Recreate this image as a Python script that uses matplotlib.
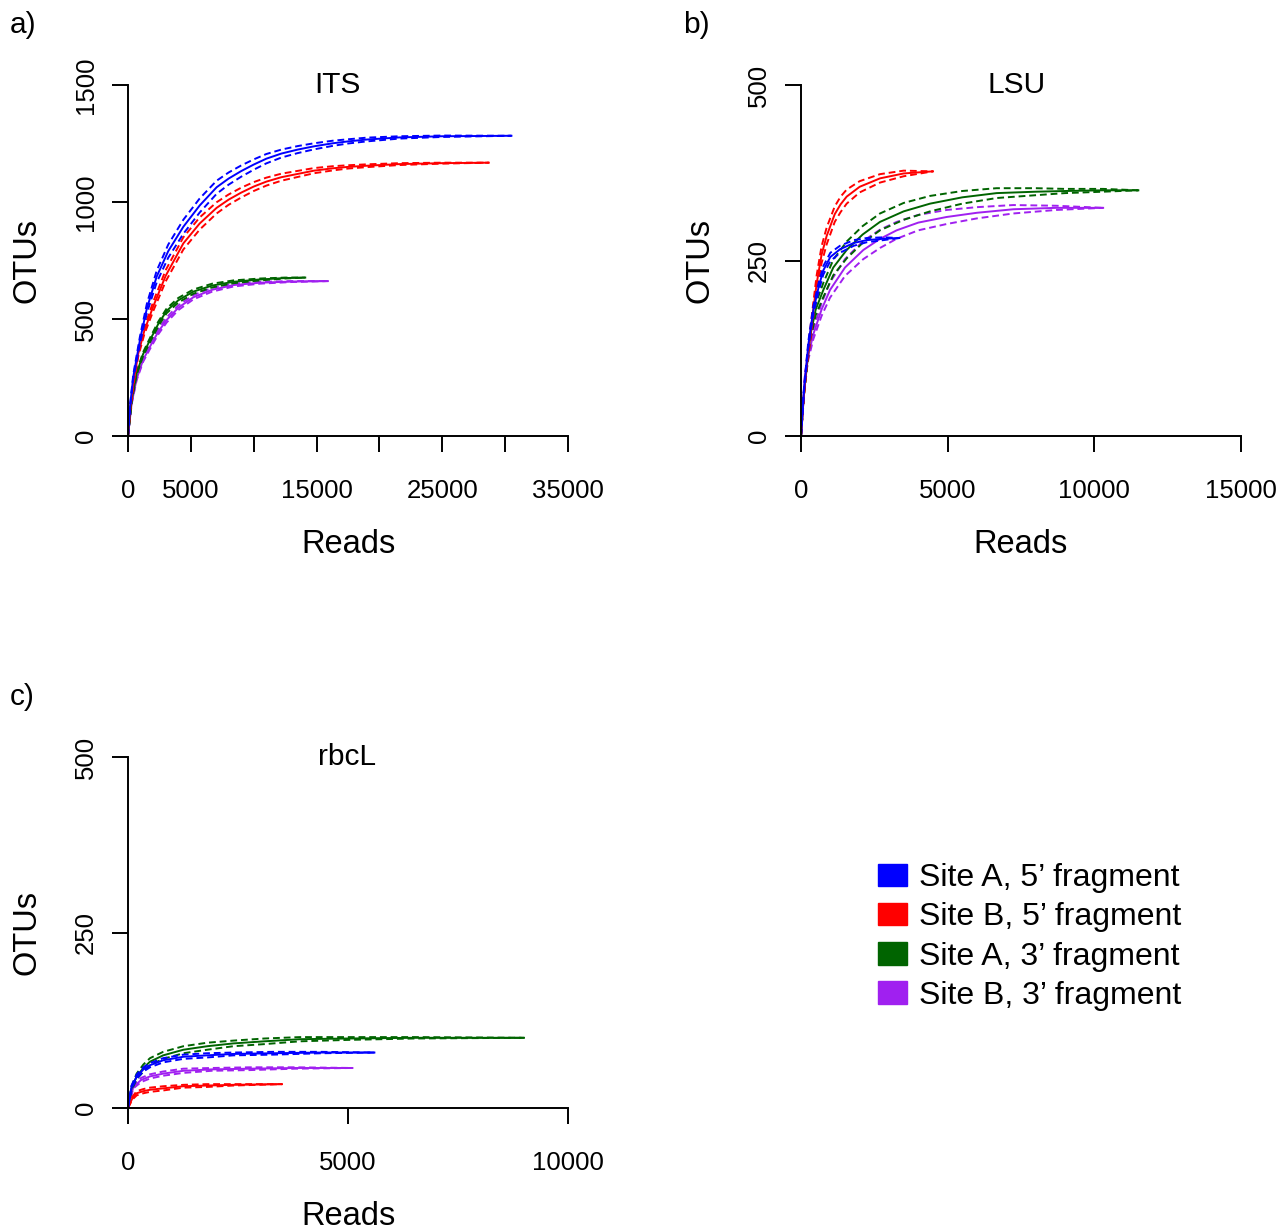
import matplotlib
matplotlib.use("Agg")
import matplotlib.pyplot as plt
from matplotlib.patches import Patch

plt.rcParams['font.family'] = ['Liberation Sans', 'DejaVu Sans']

W, H = 1283, 1230

# colours and legend text
colors = ["#0000FF", "#FF0000", "#006400", "#A020F0"]
labels = ["Site A, 5\u2019 fragment", "Site B, 5\u2019 fragment",
          "Site A, 3\u2019 fragment", "Site B, 3\u2019 fragment"]

# --- ITS (reads vs OTUs) ---
its_a5_x = [0, 160, 420, 950, 1500, 2280, 3200, 4400, 5700, 7050, 8000, 9000, 10000, 11000, 12200, 13500,
            14800, 16300, 17500, 19000, 21600, 25000, 30500]
its_a5_y = [0, 125, 253, 410, 545, 681, 790, 894, 985, 1063, 1100, 1132, 1160, 1185, 1207, 1224,
            1238, 1251, 1259, 1267, 1276, 1281, 1283]
its_a5_ci = [0, 5, 10, 15, 20, 25, 28, 30, 30, 28, 26, 24, 22, 20, 17, 15,
             13, 11, 9, 8, 5, 3, 0]

its_b5_x = [0, 200, 500, 820, 1300, 2000, 3000, 4400, 5700, 7050, 8000, 9000, 10000, 11000, 12200, 13500,
            14800, 16300, 17500, 19000, 21600, 25000, 28700]
its_b5_y = [0, 130, 250, 353, 450, 553, 685, 823, 908, 975, 1010, 1040, 1066, 1087, 1106, 1120,
            1134, 1144, 1150, 1155, 1162, 1166, 1168]
its_b5_ci = [0, 5, 8, 12, 15, 20, 24, 26, 26, 24, 22, 21, 19, 17, 15, 13,
             11, 9, 7, 6, 4, 2, 0]

its_a3_x = [0, 290, 690, 1200, 1750, 2400, 3075, 4000, 5200, 6700, 8400, 10500, 12500, 14100]
its_a3_y = [0, 154, 268, 350, 410, 478, 535, 580, 617, 643, 659, 669, 675, 677]
its_a3_ci = [0, 4, 6, 8, 9, 10, 10, 10, 9, 8, 6, 4, 2, 0]

its_b3_x = [0, 290, 690, 1200, 1750, 2400, 3075, 4000, 5200, 6700, 8400, 10500, 13000, 15900]
its_b3_y = [0, 140, 245, 325, 382, 445, 496, 548, 593, 625, 645, 655, 660, 662]
its_b3_ci = [0, 4, 6, 8, 10, 11, 11, 10, 9, 8, 6, 4, 2, 0]

# --- LSU ---
lsu_a5_x = [0, 100, 250, 420, 600, 761, 1000, 1330, 1800, 2240, 2800, 3350]
lsu_a5_y = [0, 65, 130, 179, 212, 236, 255, 266, 275, 279, 281, 282]
lsu_a5_ci = [0, 3, 5, 6, 6, 6, 6, 5, 4, 3, 2, 0]

lsu_b5_x = [0, 100, 200, 307, 420, 534, 700, 875, 1150, 1350, 1557, 2000, 2693, 3500, 4500]
lsu_b5_y = [0, 60, 105, 141, 180, 217, 258, 285, 316, 330, 341, 355, 367, 374, 377]
lsu_b5_ci = [0, 4, 6, 8, 10, 12, 12, 12, 11, 11, 10, 8, 6, 4, 0]

lsu_a3_x = [0, 100, 307, 500, 761, 1100, 1557, 2100, 2693, 3500, 4400, 5500, 6670, 8000, 9000, 10300, 11500]
lsu_a3_y = [0, 60, 141, 180, 208, 240, 265, 287, 305, 320, 331, 340, 346, 348, 349, 350, 350]
lsu_a3_ci = [0, 3, 6, 8, 10, 11, 12, 12, 12, 12, 11, 9, 7, 5, 3, 2, 0]

lsu_b3_x = [0, 136, 250, 420, 700, 989, 1500, 2125, 2700, 3262, 4000, 4967, 6000, 7241, 8700, 10300]
lsu_b3_y = [0, 85, 115, 145, 180, 208, 240, 265, 281, 293, 304, 312, 318, 323, 325, 325]
lsu_b3_ci = [0, 4, 6, 7, 9, 11, 12, 13, 13, 12, 11, 10, 8, 6, 3, 0]

# --- rbcL ---
rbc_a5_x = [0, 80, 200, 350, 500, 800, 1258, 1800, 2394, 3300, 4400, 5600]
rbc_a5_y = [0, 30, 45, 55, 61, 68, 73, 75, 77, 78, 79, 79]
rbc_a5_ci = [0, 2, 3, 3, 3, 3, 3, 3, 2, 2, 1, 0]

rbc_b5_x = [0, 100, 197, 350, 500, 800, 1258, 1800, 2394, 3500]
rbc_b5_y = [0, 14, 21, 24, 26, 28, 31, 32, 33, 34]
rbc_b5_ci = [0, 2, 3, 3, 3, 3, 2, 2, 1, 0]

rbc_a3_x = [0, 80, 197, 350, 500, 800, 1258, 1800, 2394, 3100, 3909, 5000, 6500, 9000]
rbc_a3_y = [0, 28, 45, 57, 66, 75, 83, 88, 92, 95, 98, 99, 100, 100]
rbc_a3_ci = [0, 3, 4, 5, 5, 5, 5, 5, 4, 4, 3, 2, 1, 0]

rbc_b3_x = [0, 121, 300, 500, 800, 1258, 1900, 2773, 3800, 5100]
rbc_b3_y = [0, 30, 40, 45, 49, 53, 55, 56, 57, 57]
rbc_b3_ci = [0, 2, 3, 3, 3, 3, 2, 2, 1, 0]

panels = [
    dict(name="ITS", tag="a)", box=(128, 85), xmax=35000, ymax=1500,
         xticks=[0, 5000, 10000, 15000, 20000, 25000, 30000, 35000],
         xlabels=["0", "5000", "", "15000", "", "25000", "", "35000"],
         yticks=[0, 500, 1000, 1500], title_x=0.476,
         curves=[(its_a5_x, its_a5_y, its_a5_ci), (its_b5_x, its_b5_y, its_b5_ci),
                 (its_a3_x, its_a3_y, its_a3_ci), (its_b3_x, its_b3_y, its_b3_ci)]),
    dict(name="LSU", tag="b)", box=(801, 85), xmax=15000, ymax=500,
         xticks=[0, 5000, 10000, 15000],
         xlabels=["0", "5000", "10000", "15000"],
         yticks=[0, 250, 500], title_x=0.489,
         curves=[(lsu_a5_x, lsu_a5_y, lsu_a5_ci), (lsu_b5_x, lsu_b5_y, lsu_b5_ci),
                 (lsu_a3_x, lsu_a3_y, lsu_a3_ci), (lsu_b3_x, lsu_b3_y, lsu_b3_ci)]),
    dict(name="rbcL", tag="c)", box=(128, 757), xmax=10000, ymax=500,
         xticks=[0, 5000, 10000],
         xlabels=["0", "5000", "10000"],
         yticks=[0, 250, 500], title_x=0.497,
         curves=[(rbc_a5_x, rbc_a5_y, rbc_a5_ci), (rbc_b5_x, rbc_b5_y, rbc_b5_ci),
                 (rbc_a3_x, rbc_a3_y, rbc_a3_ci), (rbc_b3_x, rbc_b3_y, rbc_b3_ci)]),
]

fig = plt.figure(figsize=(W / 100, H / 100), dpi=100)

aw, ah = 440, 351
for p in panels:
    left, top = p["box"]
    ax = fig.add_axes([left / W, 1 - (top + ah) / H, aw / W, ah / H])
    # draw in reverse so blue/red sit on top like the original
    for (x, y, ci), c in list(zip(p["curves"], colors))[::-1]:
        up = [a + b for a, b in zip(y, ci)]
        lo = [a - b for a, b in zip(y, ci)]
        ax.plot(x, up, color=c, lw=1.4, dashes=(3.5, 2))
        ax.plot(x, lo, color=c, lw=1.4, dashes=(3.5, 2))
        ax.plot(x, y, color=c, lw=1.4)
    ax.set_xlim(0, p["xmax"])
    ax.set_ylim(0, p["ymax"])
    ax.spines[["top", "right"]].set_visible(False)
    for s in ["left", "bottom"]:
        ax.spines[s].set_linewidth(1.4)
    ax.set_xticks(p["xticks"])
    ax.set_xticklabels(p["xlabels"])
    ax.set_yticks(p["yticks"])
    ax.set_yticklabels([str(v) for v in p["yticks"]], rotation=90, va="center")
    ax.tick_params(axis="both", direction="out", length=11.5, width=1.4, labelsize=18.5)
    ax.tick_params(axis="x", pad=19.5)
    ax.tick_params(axis="y", pad=10)
    ax.set_xlabel("Reads", fontsize=23.5, labelpad=19)
    ax.set_ylabel("OTUs", fontsize=23.5, labelpad=23)
    ax.text(p["title_x"], 0.977, p["name"], transform=ax.transAxes,
            ha="center", va="baseline", fontsize=21.5)
    fig.text((left - 118) / W, 1 - (top - 60) / H, p["tag"],
             ha="left", va="center", fontsize=21.5)

handles = [Patch(facecolor=c, edgecolor=c) for c in colors]
fig.legend(handles, labels, loc="upper left", bbox_to_anchor=(878 / W, 1 - 863 / H),
           frameon=False, fontsize=23, handlelength=0.9, handleheight=0.7,
           handletextpad=0.38, labelspacing=0.29, borderpad=0, borderaxespad=0)

fig.savefig("out.png", dpi=100)
